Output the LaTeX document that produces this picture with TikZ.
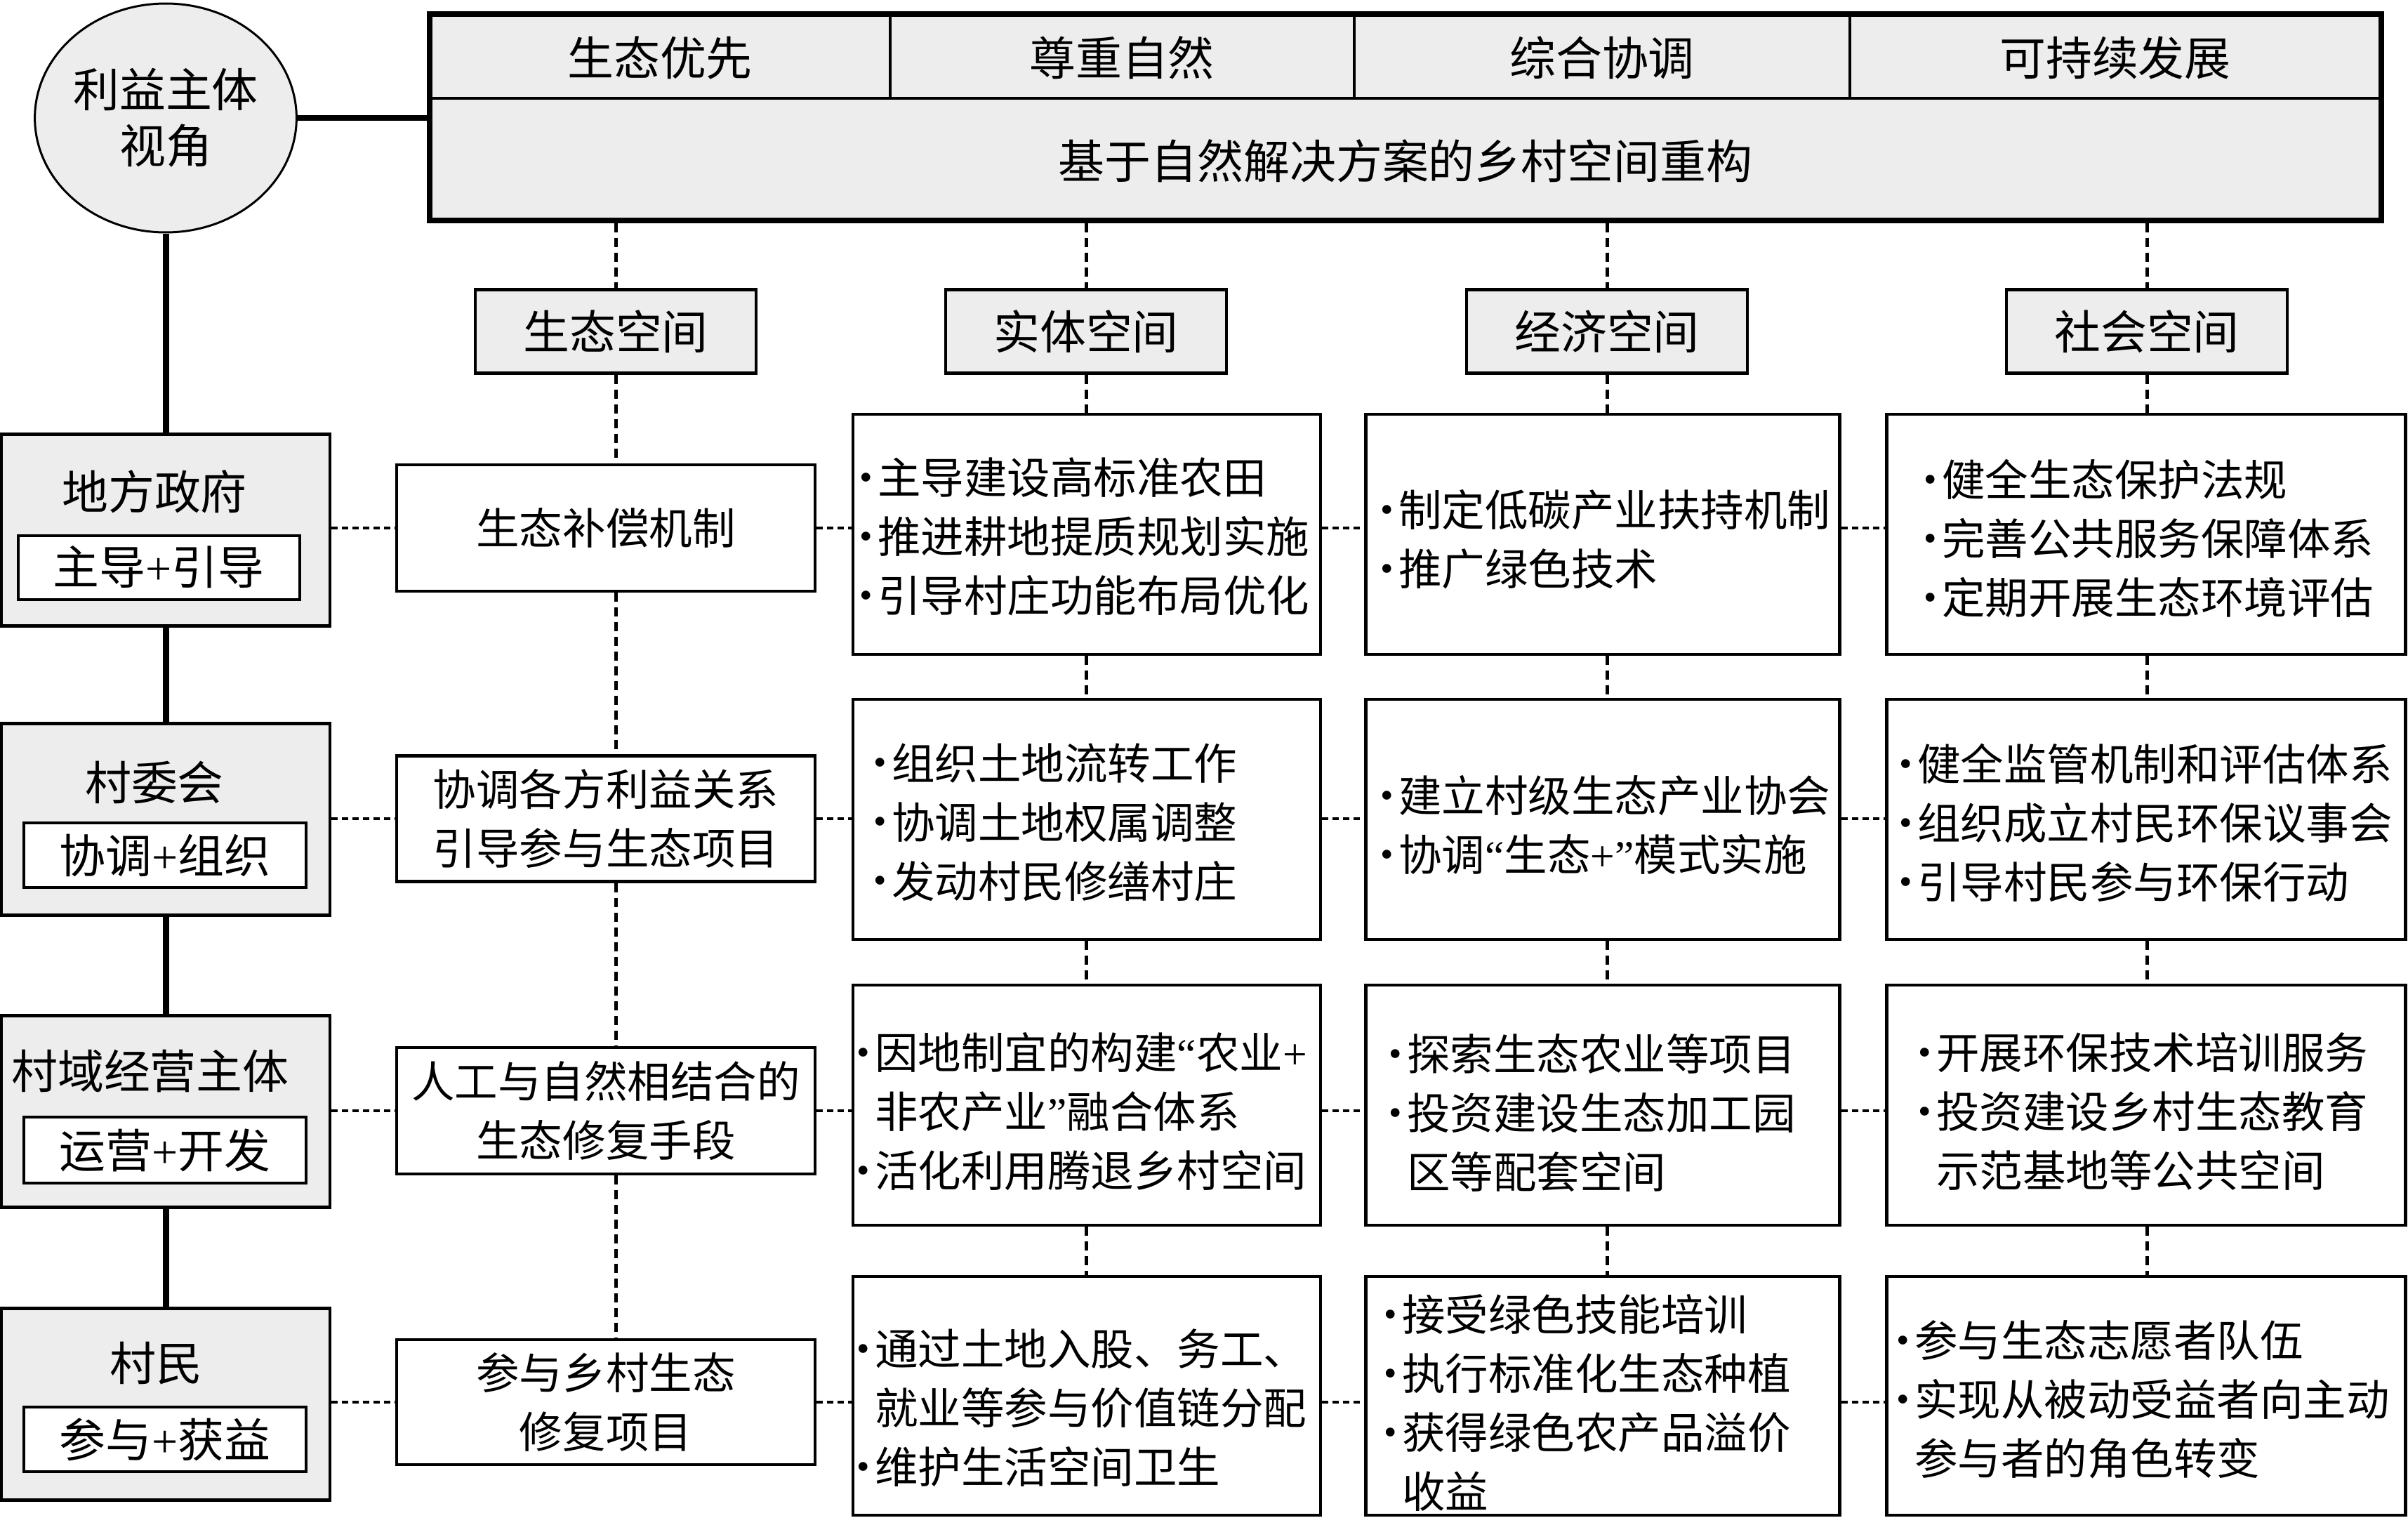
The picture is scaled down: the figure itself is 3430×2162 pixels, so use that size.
\documentclass[tikz,border=0pt]{standalone}
\usepackage{fontspec}
\setmainfont{Noto Sans CJK SC}
\newfontfamily\latf{Liberation Serif}
\usetikzlibrary{shapes.geometric}
\newcommand\bigfs{\fontsize{37.5pt}{45.5pt}\selectfont}
\newcommand\bodyfs{\fontsize{35pt}{47.8pt}\selectfont}
\newcommand\bl{\makebox[0.42em][l]{\raisebox{0.1em}{\latf\fontsize{30pt}{30pt}\selectfont •}}}
\newcommand\nb{\hspace*{0.42em}}
\newcommand\pl{{\latf +}}
\newcommand\oq{{\latf “}}
\newcommand\cq{{\latf ”}}
\begin{document}
\begin{tikzpicture}[x=0.2mm,y=-0.2mm,
  sz/.style 2 args={minimum width={#1*0.2mm},minimum height={#2*0.2mm}},
  gbox/.style={draw,line width=0.9mm,fill=black!7,inner sep=0},
  wbox/.style={draw,line width=0.9mm,fill=white,inner sep=0},
  txt/.style={inner sep=0,align=left,anchor=west,font=\bodyfs},
  btxt/.style={inner sep=0,align=center,font=\bigfs},
  spine/.style={line width=1.8mm},
  hdot/.style={line width=0.8mm,dash pattern=on 1.8mm off 1.2mm},
  vdash/.style={line width=1.0mm,dash pattern=on 2.6mm off 1.6mm},
]
\useasboundingbox (0,0) rectangle (3430,2162);

% top principle block
\node[draw,line width=1.5mm,fill=black!7,sz={2780}{294},inner sep=0] (top) at (2002,167) {};
\draw[line width=0.7mm] (612,140) -- (3392,140);
\draw[line width=0.7mm] (1268,20) -- (1268,140);
\draw[line width=0.7mm] (1929,20) -- (1929,140);
\draw[line width=0.7mm] (2635,20) -- (2635,140);
\node[btxt] (v1) at (940,82) {生态优先};
\node[btxt] (v2) at (1598,82) {尊重自然};
\node[btxt] (v3) at (2282,82) {综合协调};
\node[btxt] (v4) at (3013,82) {可持续发展};
\node[btxt] (ttl) at (2002,229) {基于自然解决方案的乡村空间重构};

% perspective ellipse
\node[ellipse,draw,line width=0.6mm,fill=black!7,sz={356}{326},inner sep=0,font=\bigfs,align=center] (ell) at (236,168) {利益主体\\视角};

% stakeholders
\node[gbox,sz={468}{273}] (sh1) at (236,755) {};
\node[btxt] (sht1) at (220,700) {地方政府};
\node[wbox,line width=0.8mm,sz={401}{91},font=\bigfs] (in1) at (226,808) {主导\pl 引导};
\node[gbox,sz={468}{273}] (sh2) at (236,1167) {};
\node[btxt] (sht2) at (220,1114) {村委会};
\node[wbox,line width=0.8mm,sz={402}{92},font=\bigfs] (in2) at (235,1218) {协调\pl 组织};
\node[gbox,sz={468}{273}] (sh3) at (236,1583) {};
\node[btxt] (sht3) at (214,1526) {村域经营主体};
\node[wbox,line width=0.8mm,sz={402}{94},font=\bigfs] (in3) at (235,1638) {运营\pl 开发};
\node[gbox,sz={468}{273}] (sh4) at (236,2000) {};
\node[btxt] (sht4) at (222,1942) {村民};
\node[wbox,line width=0.8mm,sz={402}{92},font=\bigfs] (in4) at (235,2050) {参与\pl 获益};

% space headers
\node[gbox,sz={400}{119},font=\bigfs] (spE) at (877,472) {生态空间};
\node[gbox,sz={400}{119},font=\bigfs] (spP) at (1547,472) {实体空间};
\node[gbox,sz={400}{119},font=\bigfs] (spN) at (2289,472) {经济空间};
\node[gbox,sz={400}{119},font=\bigfs] (spS) at (3058,472) {社会空间};

% ecological column
\node[wbox,sz={596}{180},font=\bodyfs,align=center] (ec1) at (863,752) {生态补偿机制};
\node[wbox,sz={596}{179},font=\bodyfs,align=center] (ec2) at (863,1166) {协调各方利益关系\\引导参与生态项目};
\node[wbox,sz={596}{180},font=\bodyfs,align=center] (ec3) at (863,1582) {人工与自然相结合的\\生态修复手段};
\node[wbox,sz={596}{178},font=\bodyfs,align=center] (ec4) at (863,1997) {参与乡村生态\\修复项目};

% grid boxes
\node[wbox,sz={666}{342}] (ph1) at (1548,761) {};
\node[wbox,sz={675}{342}] (en1) at (2283,761) {};
\node[wbox,sz={739}{342}] (so1) at (3057,761) {};
\node[wbox,sz={666}{342}] (ph2) at (1548,1167) {};
\node[wbox,sz={675}{342}] (en2) at (2283,1167) {};
\node[wbox,sz={739}{342}] (so2) at (3057,1167) {};
\node[wbox,sz={666}{342}] (ph3) at (1548,1574) {};
\node[wbox,sz={675}{342}] (en3) at (2283,1574) {};
\node[wbox,sz={739}{342}] (so3) at (3057,1574) {};
\node[wbox,sz={666}{340}] (ph4) at (1548,1988) {};
\node[wbox,sz={675}{340}] (en4) at (2283,1988) {};
\node[wbox,sz={739}{340}] (so4) at (3057,1988) {};

\node[txt] (tph1) at (1224,764) {\bl 主导建设高标准农田\\\bl 推进耕地提质规划实施\\\bl 引导村庄功能布局优化};
\node[txt] (ten1) at (1966,768) {\bl 制定低碳产业扶持机制\\\bl 推广绿色技术};
\node[txt] (tso1) at (2740,767) {\bl 健全生态保护法规\\\bl 完善公共服务保障体系\\\bl 定期开展生态环境评估};
\node[txt] (tph2) at (1244,1171) {\bl 组织土地流转工作\\\bl 协调土地权属调整\\\bl 发动村民修缮村庄};
\node[txt] (ten2) at (1966,1175) {\bl 建立村级生态产业协会\\\bl 协调\oq 生态\pl\cq 模式实施};
\node[txt] (tso2) at (2705,1172) {\bl 健全监管机制和评估体系\\\bl 组织成立村民环保议事会\\\bl 引导村民参与环保行动};
\node[txt] (tph3) at (1220,1583) {\bl 因地制宜的构建\oq 农业\pl\\\nb 非农产业\cq 融合体系\\\bl 活化利用腾退乡村空间};
\node[txt] (ten3) at (1978,1585) {\bl 探索生态农业等项目\\\bl 投资建设生态加工园\\\nb 区等配套空间};
\node[txt] (tso3) at (2732,1583) {\bl 开展环保技术培训服务\\\bl 投资建设乡村生态教育\\\nb 示范基地等公共空间};
\node[txt] (tph4) at (1220,2005) {\bl 通过土地入股、务工、\\\nb 就业等参与价值链分配\\\bl 维护生活空间卫生};
\node[txt] (ten4) at (1971,1998) {\bl 接受绿色技能培训\\\bl 执行标准化生态种植\\\bl 获得绿色农产品溢价\\\nb 收益};
\node[txt] (tso4) at (2701,1993) {\bl 参与生态志愿者队伍\\\bl 实现从被动受益者向主动\\\nb 参与者的角色转变};

% solid connectors
\draw[line width=1.5mm] (ell.east) -- (ell.east -| top.west);
\draw[spine] (ell.south) -- (ell.south |- sh1.north);
\draw[spine] (sh1.south) -- (sh2.north);
\draw[spine] (sh2.south) -- (sh3.north);
\draw[spine] (sh3.south) -- (sh4.north);

% horizontal dotted connectors
\foreach \i in {1,2,3,4} {
  \draw[hdot] (sh\i.east |- ec\i.west) -- (ec\i.west);
  \draw[hdot] (ec\i.east) -- (ec\i.east -| ph\i.west);
  \draw[hdot] (ec\i.east -| ph\i.east) -- (ec\i.east -| en\i.west);
  \draw[hdot] (ec\i.east -| en\i.east) -- (ec\i.east -| so\i.west);
}

% vertical dashed connectors
\foreach \cc/\bb in {spE/ec,spP/ph,spN/en,spS/so} {
  \draw[vdash] (\cc |- top.south) -- (\cc.north);
  \draw[vdash] (\cc.south) -- (\cc |- \bb1.north);
  \foreach \ii/\jj in {1/2,2/3,3/4}
    \draw[vdash] (\cc |- \bb\ii.south) -- (\cc |- \bb\jj.north);
}
\end{tikzpicture}
\end{document}
